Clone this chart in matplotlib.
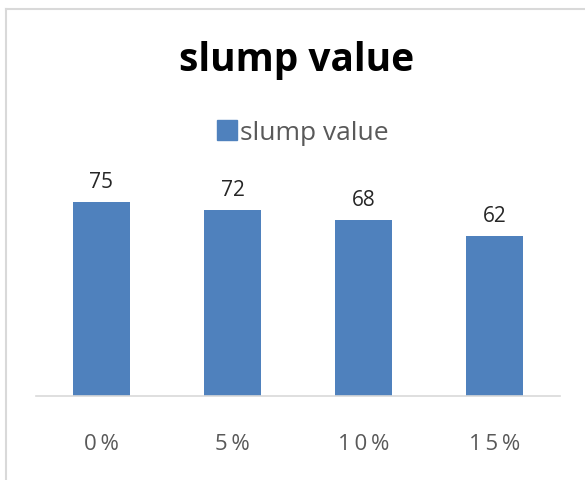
import matplotlib.pyplot as plt
from matplotlib.lines import Line2D

categories = ["0%", "5%", "10%", "15%"]
slump_values = [75, 72, 68, 62]
series_name = "slump value"

BAR_COLOR = "#4F81BD"
GRID_GRAY = "#D9D9D9"
TEXT_GRAY = "#595959"

plt.rcParams["font.family"] = ["Open Sans", "DejaVu Sans"]

fig = plt.figure(figsize=(5.85, 4.81), dpi=100)
W, H = 585, 481

# axes from pixel positions of the plot area
left, right, top, bottom = 36, 560, 190, 397
ax = fig.add_axes([left / W, 1 - bottom / H, (right - left) / W, (bottom - top) / H])

x = range(len(categories))
bars = ax.bar(x, slump_values, width=0.43, color=BAR_COLOR, label=series_name)
ax.set_xlim(-0.5, len(categories) - 0.5)
ax.set_ylim(0, 80)

for rect, v in zip(bars, slump_values):
    ax.annotate(str(v), (rect.get_x() + rect.get_width() / 2, v),
                textcoords="offset points", xytext=(0, 7), ha="center", va="bottom",
                fontsize=15, color="#262626")

for s in ["left", "right", "top"]:
    ax.spines[s].set_visible(False)
ax.spines["bottom"].set_color(GRID_GRAY)
ax.spines["bottom"].set_linewidth(1.2)
ax.set_yticks([])
ax.set_xticks(list(x))
ax.set_xticklabels(["\u2009".join(c) for c in categories], fontsize=16, color=TEXT_GRAY)
ax.tick_params(axis="x", length=0, pad=27)

fig.text(297 / W, 1 - 60 / H, series_name, ha="center", va="center",
         fontsize=28, fontweight="bold", color="black")

handle = Line2D([], [], marker="s", linestyle="none", markersize=14, color=BAR_COLOR)
fig.legend([handle], [series_name], loc="center", bbox_to_anchor=(301 / W, 1 - 134 / H),
           frameon=False, fontsize=19, labelcolor=TEXT_GRAY, handletextpad=0.0,
           handlelength=1.0)

# chart border (top and left edges visible in the reference)
fig.add_artist(Line2D([6 / W, 1], [1 - 10 / H, 1 - 10 / H], transform=fig.transFigure,
                      color=GRID_GRAY, linewidth=1.5))
fig.add_artist(Line2D([6 / W, 6 / W], [0, 1 - 10 / H], transform=fig.transFigure,
                      color=GRID_GRAY, linewidth=1.5))

fig.savefig("out.png", dpi=100)
